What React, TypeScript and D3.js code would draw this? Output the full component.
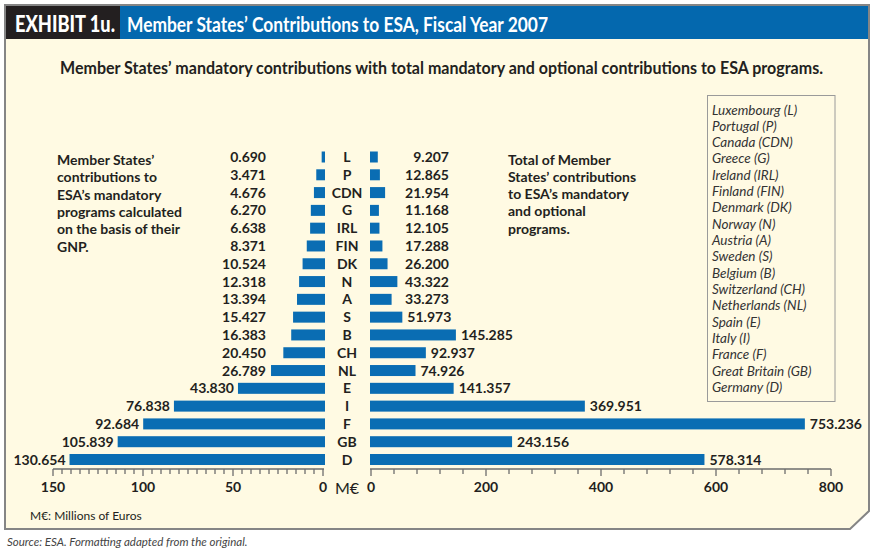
import React from "react";
import * as d3 from "d3";

const codes = ["L", "P", "CDN", "G", "IRL", "FIN", "DK", "N", "A", "S", "B", "CH", "NL", "E", "I", "F", "GB", "D"];
const mandatory = [0.69, 3.471, 4.676, 6.27, 6.638, 8.371, 10.524, 12.318, 13.394, 15.427, 16.383, 20.45, 26.789, 43.83, 76.838, 92.684, 105.839, 130.654];
const total = [9.207, 12.865, 21.954, 11.168, 12.105, 17.288, 26.2, 43.322, 33.273, 51.973, 145.285, 92.937, 74.926, 141.357, 369.951, 753.236, 243.156, 578.314];
const countryNames = [
  "Luxembourg (L)", "Portugal (P)", "Canada (CDN)", "Greece (G)", "Ireland (IRL)", "Finland (FIN)",
  "Denmark (DK)", "Norway (N)", "Austria (A)", "Sweden (S)", "Belgium (B)", "Switzerland (CH)",
  "Netherlands (NL)", "Spain (E)", "Italy (I)", "France (F)", "Great Britain (GB)", "Germany (D)",
];
const leftTicks = [0, 50, 100, 150];
const rightTicks = [0, 200, 400, 600, 800];
const leftText = ["Member States’", "contributions to", "ESA’s mandatory", "programs calculated", "on the basis of their", "GNP."];
const rightText = ["Total of Member", "States’ contributions", "to ESA’s mandatory", "and optional", "programs."];

const FONT = "Lato, 'Open Sans', sans-serif";
const INK = "#231F20";
const BLUE = "#0A6DB3";
const CREAM = "#FFFAE3";

export default function App() {
  const y = d3.scalePoint<string>().domain(codes).range([157, 459.5]);
  const xLbar = d3.scaleLinear().domain([0, 150]).range([323, 32]);
  const xRbar = d3.scaleLinear().domain([0, 800]).range([372.5, 831.7]);
  const xLaxis = d3.scaleLinear().domain([0, 150]).range([323, 53]);
  const xRaxis = d3.scaleLinear().domain([0, 800]).range([371, 831]);
  const fmt = d3.format(".3f");
  const barH = 11;
  const axisY = 469;
  const leftZero = 325;
  const rightZero = 370;
  const estW = (s: string) => s.replace(".", "").length * 7.8 + 3.4;

  const framePath = "M5,5 L869,5 L869,511 L850,529 L5,529 Z";

  return (
    <svg width={876} height={552} style={{ position: "absolute", left: 0, top: 0, background: "#fff" }} fontFamily={FONT}>
      <path d={framePath} fill={CREAM} stroke="#858585" strokeWidth={2} />
      <rect x={6} y={6} width={114} height={33} fill="#231F20" />
      <rect x={120} y={6} width={748} height={33} fill="#0468AE" />
      <text x={15} y={32} fill="#fff" fontSize={22} fontWeight={900} textLength={100} lengthAdjust="spacingAndGlyphs">EXHIBIT 1u.</text>
      <text x={127} y={31.5} fill="#fff" fontSize={20.5} fontWeight={700} textLength={421} lengthAdjust="spacingAndGlyphs">Member States’ Contributions to ESA, Fiscal Year 2007</text>
      <text x={60} y={74} fill={INK} fontSize={16.5} fontWeight={700} textLength={763} lengthAdjust="spacingAndGlyphs">Member States’ mandatory contributions with total mandatory and optional contributions to ESA programs.</text>

      {/* left description */}
      {leftText.map((t, i) => (
        <text key={"lt" + i} x={57} y={165 + i * 17.3} fill={INK} fontSize={14} fontWeight={700}>{t}</text>
      ))}
      {rightText.map((t, i) => (
        <text key={"rt" + i} x={508} y={164.5 + i * 17.3} fill={INK} fontSize={14} fontWeight={700}>{t}</text>
      ))}

      {/* legend */}
      <rect x={707.5} y={95.5} width={127.5} height={306} fill={CREAM} stroke="#9a9a9a" strokeWidth={1} />
      {countryNames.map((n, i) => (
        <text key={"lg" + i} x={712} y={114.5 + i * 16.33} fill="#333" fontSize={13.5} fontStyle="italic" fontWeight={400}>{n}</text>
      ))}

      {/* bars */}
      {codes.map((c, i) => {
        const cy = y(c) as number;
        const lx = xLbar(mandatory[i]);
        const rx = xRbar(total[i]);
        const ls = fmt(mandatory[i]);
        const rs = fmt(total[i]);
        const w = estW(rs);
        const rightStart = rx + 5 + w > 449;
        return (
          <g key={c}>
            <rect x={lx} y={cy - barH / 2} width={leftZero - lx} height={barH} fill={BLUE} />
            <rect x={rightZero} y={cy - barH / 2} width={rx - rightZero} height={barH} fill={BLUE} />
            <text x={Math.min(266, lx - 4)} y={cy + 5} textAnchor="end" fill={INK} fontSize={14} fontWeight={700}>{ls}</text>
            <text x={rightStart ? rx + 5 : 449} y={cy + 5} textAnchor={rightStart ? "start" : "end"} fill={INK} fontSize={14} fontWeight={700}>{rs}</text>
            <text x={347} y={cy + 5} textAnchor="middle" fill={INK} fontSize={14} fontWeight={700}>{c}</text>
          </g>
        );
      })}

      {/* axes */}
      <line x1={xLaxis(150)} x2={xLaxis(0) + 1} y1={axisY} y2={axisY} stroke="#6d6d6d" strokeWidth={1.5} />
      <line x1={xRaxis(0) - 1} x2={xRaxis(800)} y1={axisY} y2={axisY} stroke="#6d6d6d" strokeWidth={1.5} />
      {d3.range(0, 151, 5).map((t) => (
        <line key={"lm" + t} x1={xLaxis(t)} x2={xLaxis(t)} y1={axisY} y2={axisY + (t % 50 === 0 ? 7 : 5)} stroke="#6d6d6d" strokeWidth={1.3} />
      ))}
      {d3.range(0, 801, 40).map((t) => (
        <line key={"rm" + t} x1={xRaxis(t)} x2={xRaxis(t)} y1={axisY} y2={axisY + (t % 200 === 0 ? 7 : 5)} stroke="#6d6d6d" strokeWidth={1.3} />
      ))}
      {leftTicks.map((t) => (
        <text key={"ltk" + t} x={xLaxis(t)} y={492} textAnchor="middle" fill={INK} fontSize={14} fontWeight={700}>{t}</text>
      ))}
      {rightTicks.map((t) => (
        <text key={"rtk" + t} x={xRaxis(t)} y={492} textAnchor="middle" fill={INK} fontSize={14} fontWeight={700}>{t}</text>
      ))}
      <text x={347} y={494} textAnchor="middle" fill={INK} fontSize={16}>M€</text>

      <text x={30} y={520} fill={INK} fontSize={12}>M€: Millions of Euros</text>
      <text x={7} y={546} fill="#444" fontSize={11.5} fontStyle="italic">Source: ESA.  Formatting adapted from the original.</text>
    </svg>
  );
}
